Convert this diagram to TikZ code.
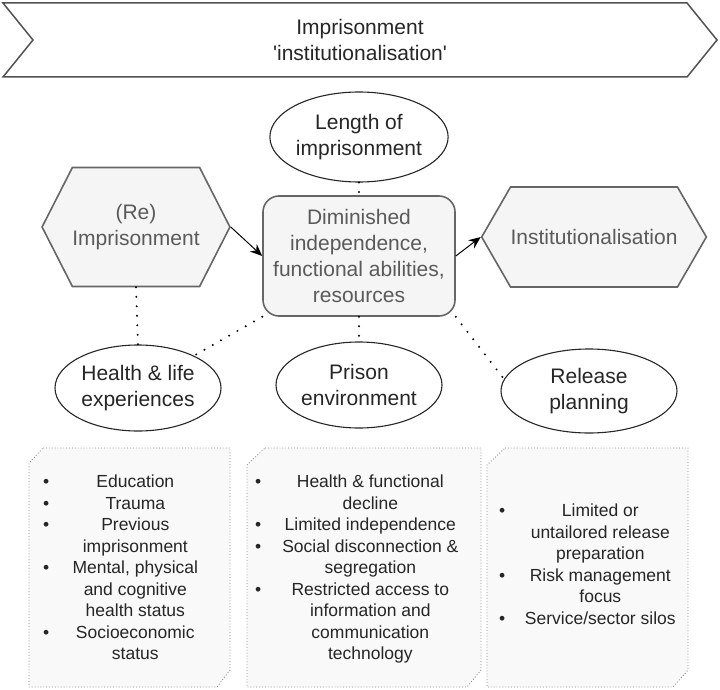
\documentclass[tikz,border=0pt]{standalone}
\usepackage{fontspec}
\setmainfont{Liberation Sans}
\usepackage{array}
\usetikzlibrary{shapes.geometric,shapes.symbols,arrows.meta}

\definecolor{hexfill}{HTML}{F5F5F5}
\definecolor{hexline}{HTML}{666666}
\definecolor{grtext}{HTML}{5A5A5A}
\definecolor{dktext}{HTML}{262626}
\definecolor{boxline}{HTML}{8C8C8C}

\begin{document}
\begin{tikzpicture}[x=1pt,y=-1pt,
  bigfont/.style={font=\fontsize{21}{26}\selectfont},
  hexnode/.style={shape=signal, signal to=east and west, draw=hexline, line width=1.6pt,
    fill=hexfill, text=grtext, bigfont, align=center, inner sep=0pt},
  ovalnode/.style={ellipse, draw=dktext, line width=1.1pt, fill=white, text=dktext,
    bigfont, align=center, inner sep=0pt},
  dotline/.style={line width=2.2pt, line cap=round, dash pattern=on 0pt off 9.5pt, black},
  arrowline/.style={line width=1pt, black, -{Stealth[length=12pt,width=10pt]}},
  listbox/.style={draw=boxline, dotted, fill=hexfill!60!white, line width=0.9pt},
  listtext/.style={font=\fontsize{17.5}{21.5}\selectfont, text=dktext, inner sep=0pt}
]
\useasboundingbox (0,0) rectangle (720,690);

% top chevron
\node[shape=signal, signal from=west, signal to=east, signal pointer angle=102,
  minimum width=714pt, minimum height=74pt, draw=hexline!80!black, line width=1.5pt,
  fill=white, text=dktext, bigfont, align=center, inner sep=0pt]
  (chev) at (360,40) {Imprisonment\\\textquotesingle institutionalisation\textquotesingle};

% main row
\node[ovalnode, minimum width=164pt, minimum height=90pt] (length) at (359,137)
  {Length of\\imprisonment};
\node[hexnode, signal pointer angle=126, minimum width=180pt, minimum height=119pt]
  (reimp) at (136,227) {(Re)\\Imprisonment};
\node[draw=hexline, line width=1.6pt, fill=hexfill, rounded corners=16pt, text=grtext,
  bigfont, align=center, inner sep=0pt, minimum width=192pt, minimum height=120pt]
  (dimin) at (359,256) {Diminished\\independence,\\functional abilities,\\resources};
\node[hexnode, signal pointer angle=120, minimum width=194pt, minimum height=100pt]
  (inst) at (594,237) {Institutionalisation};

% lower ellipses
\node[ovalnode, minimum width=166pt, minimum height=86pt] (health) at (138,388)
  {Health \& life\\experiences};
\node[ovalnode, minimum width=166pt, minimum height=86pt] (prison) at (359,385)
  {Prison\\environment};
\node[ovalnode, minimum width=176pt, minimum height=84pt] (release) at (589,391)
  {Release\\planning};

% connectors
\draw[arrowline] (reimp.east) -- (dimin.west);
\draw[arrowline] (dimin.east) -- (inst.west);
\draw[dotline] (length.south) -- (dimin.north);
\draw[dotline] (reimp.south) -- (health.north);
\draw[dotline] (dimin.south west) -- (health.30);
\draw[dotline] (dimin.south) -- (prison.north);
\draw[dotline] (dimin.south east) -- (release.172);

% list boxes
\draw[listbox] (43,448) -- (230,448) -- (230,670) -- (217,687) -- (29,687) -- (29,463) -- cycle;
\draw[listbox] (265,448) -- (481,448) -- (481,670) -- (467,687) -- (247,687) -- (247,465) -- cycle;
\draw[listbox] (505,448) -- (688,448) -- (688,670) -- (673,687) -- (487,687) -- (487,465) -- cycle;

\node[listtext, anchor=west] (list1) at (43,569.5) {%
\begin{tabular}{@{}c@{\hspace{6pt}}>{\centering\arraybackslash}p{160pt}@{}}
\textbullet & Education\\
\textbullet & Trauma\\
\textbullet & Previous\\
 & imprisonment\\
\textbullet & Mental, physical\\
 & and cognitive\\
 & health status\\
\textbullet & Socioeconomic\\
 & status
\end{tabular}};

\node[listtext, anchor=west] (list2) at (255,569.5) {%
\begin{tabular}{@{}c@{\hspace{11pt}}>{\centering\arraybackslash}p{196pt}@{}}
\textbullet & Health \& functional\\
 & decline\\
\textbullet & Limited independence\\
\textbullet & Social disconnection \&\\
 & segregation\\
\textbullet & Restricted access to\\
 & information and\\
 & communication\\
 & technology
\end{tabular}};

\node[listtext, anchor=west] (list3) at (499,566) {%
\begin{tabular}{@{}c@{\hspace{10pt}}>{\centering\arraybackslash}p{170pt}@{}}
\textbullet & Limited or\\
 & untailored release\\
 & preparation\\
\textbullet & Risk management\\
 & focus\\
\textbullet & Service/sector silos
\end{tabular}};
\end{tikzpicture}
\end{document}
